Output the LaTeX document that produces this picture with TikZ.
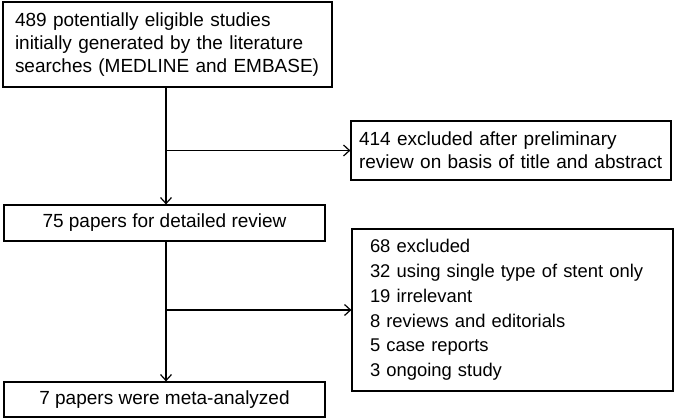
\documentclass[tikz,border=0pt]{standalone}
\usepackage{fontspec}
\setmainfont{Liberation Sans}
\usetikzlibrary{positioning,arrows.meta}

\begin{document}
\begin{tikzpicture}[x=1pt, y=1pt, line cap=round, line join=miter,
    box/.style={draw, line width=1.2pt, font=\fontsize{19}{23.3}\selectfont, inner xsep=12pt, inner ysep=3pt},
    flow/.style={-{Straight Barb[length=6pt,width=11pt]}, line width=1.2pt}]
 \useasboundingbox (0,0) rectangle (675,-419);
 % boxes
 \node[box, text width=305pt, align=left, minimum height=85pt] (search) at (167.5,-44.5)
   {489 potentially eligible studies\\ initially generated by the literature\\ searches (MEDLINE and EMBASE)};
 \node[box, text width=304pt, inner xsep=8pt, align=left, minimum height=59pt] (screen) at (511,-150.5)
   {414 excluded after preliminary\\ review on basis of title and abstract};
 \node[box, minimum width=321pt, minimum height=36pt] (review) at (164.5,-223) {75 papers for detailed review};
 \node[box, text width=285pt, inner xsep=18pt, align=left, minimum height=162pt,
       font=\fontsize{18.4}{24.8}\selectfont] (excl) at (512.5,-310)
   {68 excluded\\ 32 using single type of stent only\\ 19 irrelevant\\ 8 reviews and editorials\\ 5 case reports\\ 3 ongoing study};
 \node[box, minimum width=321pt, minimum height=35pt] (final) at (164.5,-399.5) {7 papers were meta-analyzed};
 % connectors
 \coordinate (spine) at (166,0);
 \draw[flow] (spine |- search.south) -- (spine |- review.north);
 \draw[flow] (spine |- screen.west) -- (screen.west);
 \draw[flow] (spine |- review.south) -- (spine |- final.north);
 \draw[flow] (spine |- excl.west) -- (excl.west);
\end{tikzpicture}
\end{document}
